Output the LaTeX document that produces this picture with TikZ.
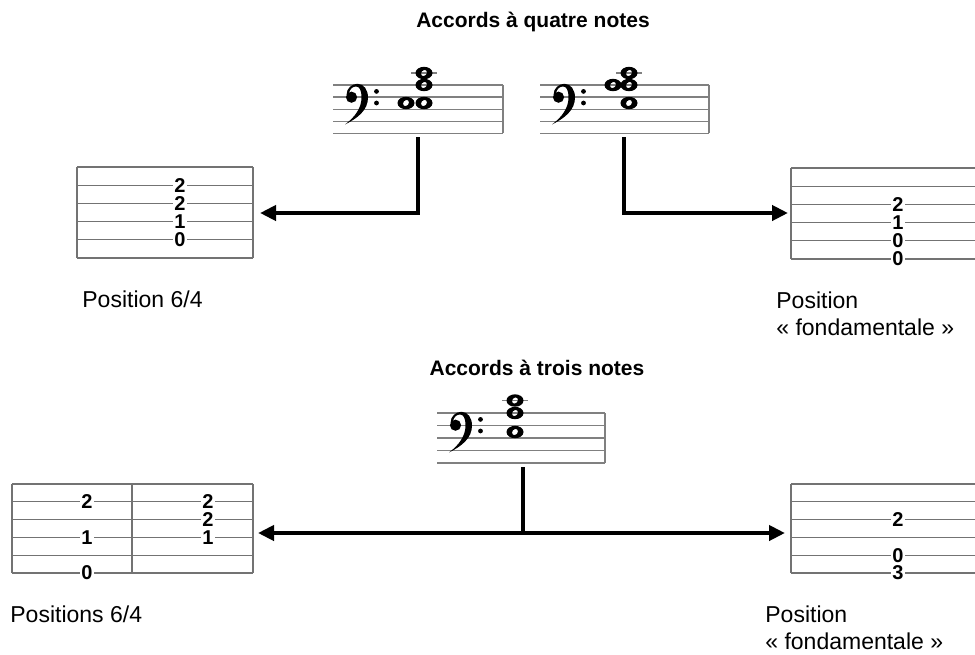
\documentclass[tikz,border=0pt]{standalone}
\usepackage{fontspec}
\setmainfont{Liberation Sans}
\usetikzlibrary{arrows.meta}

\newcommand{\basskey}[2]{%
  \begin{scope}[shift={(#1,#2)}]
    \fill (18.5,12.2) circle (5.6);
    \fill (13.5,10) .. controls (13.5,3) and (19,-1.2) .. (24.5,-1.2)
      .. controls (31,-1.2) and (35,5) .. (35,12.5)
      .. controls (35,25) and (25,33) .. (12,39.5)
      .. controls (22,32) and (28.5,23) .. (28.5,12.5)
      .. controls (28.5,5) and (26.5,1.5) .. (23,1.5)
      .. controls (19.5,1.5) and (17,4) .. (16,8) -- cycle;
    \fill (43.5,6.4) circle (2.4) (43.5,18) circle (2.4);
  \end{scope}}
\newcommand{\wnote}[2]{%
  \fill[even odd rule] (#1,#2) ellipse [x radius=8.5, y radius=6.2]
    (#1,#2) ellipse [x radius=3.4, y radius=2.7, rotate=50];}

\begin{document}
\begin{tikzpicture}[x=0.5pt,y=-0.5pt,
  staffline/.style={gray, line width=0.7pt},
  tabline/.style={gray!90!black, line width=0.6pt},
  link/.style={line width=2pt},
  conn/.style={line width=2pt, -{Triangle[length=8pt,width=7.5pt]}},
  fret/.style={font=\bfseries\fontsize{10}{10}\selectfont, fill=white, inner xsep=0.8pt, inner ysep=0pt},
  title/.style={font=\bfseries\fontsize{10.5}{12}\selectfont, anchor=base, inner sep=0},
  lbl/.style={font=\fontsize{11.5}{14}\selectfont, anchor=base west, inner sep=0}]
\useasboundingbox (0,0) rectangle (975,654);

% staves
\foreach \y in {85,97.1,109.2,121.3,133.4} {
  \draw[staffline] (333,\y) -- (503,\y);
  \draw[staffline] (540,\y) -- (709,\y);
}
\draw[staffline] (503,85) -- (503,133.4);
\draw[staffline] (709,85) -- (709,133.4);
\foreach \y in {413,425.5,438,450.5,463}
  \draw[staffline] (437,\y) -- (605,\y);
\draw[staffline] (605,413) -- (605,463);

% clefs
\basskey{333}{85}
\basskey{540}{85}
\basskey{437}{413}

% chords
\draw[staffline] (411,73) -- (437,73);
\wnote{424}{73} \wnote{424}{85} \wnote{406}{103} \wnote{424}{103}
\draw[staffline] (616,73) -- (642,73);
\wnote{613}{85} \wnote{629}{73} \wnote{629}{85} \wnote{629}{103}
\draw[staffline] (502,400.5) -- (528,400.5);
\wnote{515}{400.5} \wnote{515}{413} \wnote{515}{432}

% tablatures
\foreach \i in {0,...,5} {
  \draw[tabline] (77,167+18.2*\i) -- (253,167+18.2*\i);
  \draw[tabline] (791,168+18.2*\i) -- (975,168+18.2*\i);
  \draw[tabline] (12,484+17.8*\i) -- (253,484+17.8*\i);
  \draw[tabline] (791,484+17.8*\i) -- (975,484+17.8*\i);
}
\draw[tabline] (77,167) -- (77,258) (253,167) -- (253,258);
\draw[tabline] (791,168) -- (791,259);
\draw[tabline] (12,484) -- (12,573) (132,484) -- (132,573) (253,484) -- (253,573);
\draw[tabline] (791,484) -- (791,573);

\node[fret] (a1) at (180,185.2) {2};
\node[fret] (a2) at (180,203.4) {2};
\node[fret] (a3) at (180,221.6) {1};
\node[fret] (a4) at (180,239.8) {0};
\node[fret] (b1) at (898,204.4) {2};
\node[fret] (b2) at (898,222.6) {1};
\node[fret] (b3) at (898,240.8) {0};
\node[fret] (b4) at (898,259) {0};
\node[fret] (c1) at (87,501.8) {2};
\node[fret] (c2) at (87,537.4) {1};
\node[fret] (c3) at (87,573) {0};
\node[fret] (c4) at (208,501.8) {2};
\node[fret] (c5) at (208,519.6) {2};
\node[fret] (c6) at (208,537.4) {1};
\node[fret] (d1) at (898,519.6) {2};
\node[fret] (d2) at (898,555.2) {0};
\node[fret] (d3) at (898,573) {3};

% connectors
\coordinate (s1) at (418,137);
\coordinate (s2) at (624,137);
\coordinate (s3) at (523,467);
\coordinate (fork) at (523,533);
\coordinate (tabA) at (253,213);
\coordinate (tabB) at (791,213);
\coordinate (tabC) at (253,533);
\coordinate (tabD) at (791,533);
\draw[conn, shorten >=3.5pt] (s1) |- (tabA);
\draw[conn, shorten >=1.5pt] (s2) |- (tabB);
\draw[link] (s3) -- (fork);
\draw[conn, shorten >=2.5pt] (fork) -- (tabC);
\draw[conn, shorten >=3pt] (fork) -- (tabD);

% labels
\node[title] (t1) at (533,27) {Accords à quatre notes};
\node[title] (t2) at (537,375) {Accords à trois notes};
\node[lbl] (p1) at (82,307) {Position 6/4};
\node[lbl] (p2) at (776,308) {Position};
\node[lbl] (p2b) at (776,335) {« fondamentale »};
\node[lbl] (p3) at (10,622) {Positions 6/4};
\node[lbl] (p4) at (765,622) {Position};
\node[lbl] (p4b) at (765,649) {« fondamentale »};
\end{tikzpicture}
\end{document}
